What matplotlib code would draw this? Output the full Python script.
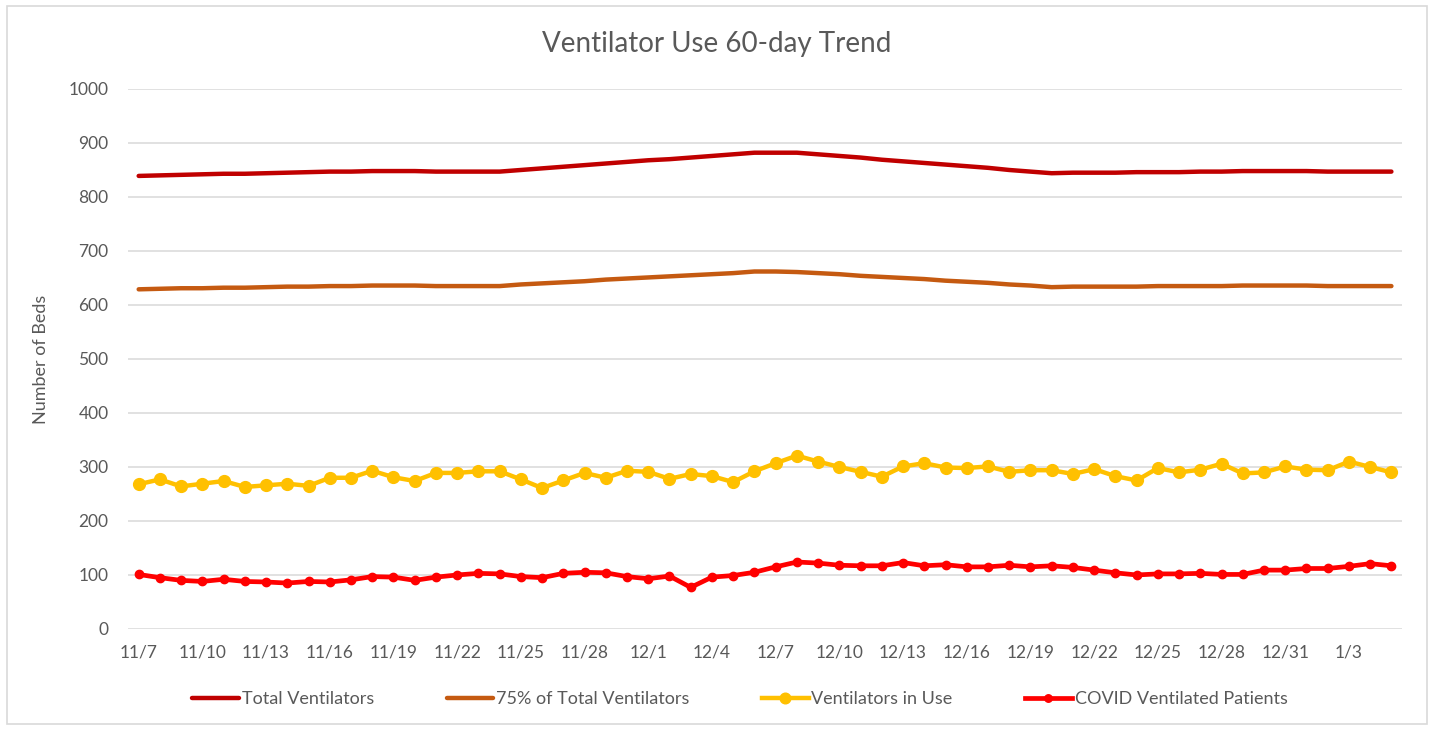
import matplotlib
matplotlib.use("Agg")
import matplotlib.pyplot as plt
import numpy as np
from matplotlib.patches import Rectangle

plt.rcParams["font.family"] = ["Lato", "DejaVu Sans"]

# daily series, 11/7 .. 1/5
total_vents = [
    839, 840, 841, 842, 843, 843, 844, 845, 846, 847, 847, 848,
    848, 848, 847, 847, 847,
    847, 850, 853, 856, 859, 862, 865, 868, 870, 873, 876, 879, 882,
    882,
    882, 879, 876, 873, 869, 866, 863, 860, 857, 854, 850, 847, 844,
    845, 845, 845, 846, 846, 846, 847, 847, 848, 848, 848, 848, 847, 847, 847, 847,
]
pct75_vents = [
    629, 630, 631, 631, 632, 632, 633, 634, 634, 635, 635, 636,
    636, 636, 635, 635, 635,
    635, 638, 640, 642, 644, 647, 649, 651, 653, 655, 657, 659, 662,
    662,
    661, 659, 657, 654, 652, 650, 648, 645, 643, 641, 638, 636, 633,
    634, 634, 634, 634, 635, 635, 635, 635, 636, 636, 636, 636, 635, 635, 635, 635,
]
vents_in_use = [
    268, 277, 264, 269, 274, 263, 266, 269, 265, 280, 280, 293, 281, 274, 289,
    289, 292, 292, 277, 261, 275, 289, 280, 293, 291, 278, 287, 283, 272, 292,
    307, 321, 310, 300, 291, 282, 301, 307, 299, 298, 301, 291, 294, 294, 287,
    296, 283, 275, 298, 290, 295, 306, 288, 290, 301, 295, 294, 310, 300, 290,
]
covid_vented = [
    101, 95, 90, 88, 92, 88, 87, 85, 88, 87, 91, 97, 96, 90, 96,
    100, 103, 102, 97, 95, 103, 105, 104, 97, 93, 98, 77, 96, 99, 105,
    115, 124, 122, 118, 117, 117, 123, 117, 119, 115, 115, 118, 115, 117, 114,
    109, 104, 100, 102, 102, 103, 101, 101, 109, 109, 112, 112, 116, 121, 117,
]
tick_labels = [
    "11/7", "11/10", "11/13", "11/16", "11/19", "11/22", "11/25", "11/28",
    "12/1", "12/4", "12/7", "12/10", "12/13", "12/16", "12/19", "12/22",
    "12/25", "12/28", "12/31", "1/3",
]

TEXT = "#595959"
GRID = "#d9d9d9"

x = np.arange(len(total_vents))

fig = plt.figure(figsize=(14.34, 7.30), dpi=100)
ax = fig.add_axes([0.0893, 0.1384, 0.8884, 0.7397])

ax.plot(x, total_vents, color="#C00000", lw=3.2, solid_capstyle="round",
        label="Total Ventilators", zorder=3)
ax.plot(x, pct75_vents, color="#C55A11", lw=3.2, solid_capstyle="round",
        label="75% of Total Ventilators", zorder=3)
ax.plot(x, vents_in_use, color="#FFC000", lw=3.2, marker="o", ms=8.5,
        label="Ventilators in Use", zorder=4)
ax.plot(x, covid_vented, color="#FF0000", lw=3.4, marker="o", ms=6,
        label="COVID Ventilated Patients", zorder=5)

ax.set_xlim(-0.5, len(x) - 0.5)
ax.set_ylim(0, 1000)
ax.set_yticks(np.arange(0, 1001, 100))
ax.set_xticks(x[::3])
ax.set_xticklabels(tick_labels)
ax.tick_params(axis="both", length=0, labelsize=12.5, colors=TEXT)
ax.tick_params(axis="x", pad=11)
ax.tick_params(axis="y", pad=14)

ax.grid(axis="y", color=GRID, lw=1.1)
ax.set_axisbelow(True)
for s in ax.spines.values():
    s.set_visible(False)

ax.set_ylabel("Number of Beds", fontsize=13, color=TEXT, labelpad=14)
fig.text(0.5, 0.94, "Ventilator Use 60-day Trend", ha="center", va="center",
         fontsize=20, color=TEXT)

ax.legend(loc="center", bbox_to_anchor=(0.516, 0.042),
          bbox_transform=fig.transFigure, ncol=4, frameon=False,
          fontsize=13, labelcolor=TEXT, handlelength=2.6,
          handletextpad=0.15, columnspacing=4.0, markerscale=0.9)

fig.patches.append(Rectangle((0.005, 0.008), 0.99, 0.984, transform=fig.transFigure,
                             fill=False, edgecolor=GRID, lw=1.2))

fig.savefig("out.png", dpi=100, facecolor="white")
